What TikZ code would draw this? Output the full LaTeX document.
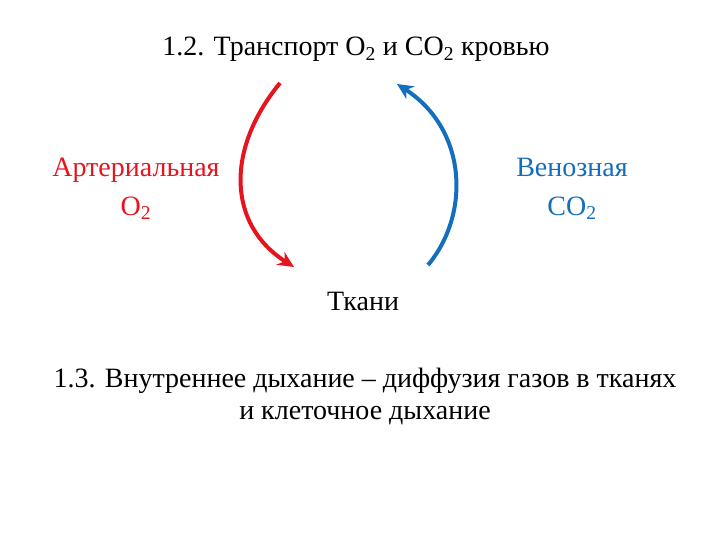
\documentclass[tikz,border=0pt]{standalone}
\usepackage{fontspec}
\setmainfont{Liberation Serif}
\usetikzlibrary{arrows.meta}
\begin{document}
\begin{tikzpicture}[x=1pt,y=-1pt,
  txt/.style={font=\fontsize{28}{32}\selectfont, inner sep=0pt, align=center, anchor=base},
  arc/.style={line width=4pt, -{Stealth[length=16pt,width=15pt]}}]
\useasboundingbox (0,0) rectangle (720,540);
\definecolor{myred}{RGB}{230,20,30}
\definecolor{myblue}{RGB}{20,110,190}
\node[txt] (title) at (356,56) {1.2. Транспорт O\textsubscript{2} и CO\textsubscript{2} кровью};
\node[txt, text=myred] (art) at (136,177) {Артериальная};
\node[txt, text=myred] (arto) at (136,215) {O\textsubscript{2}};
\node[txt, text=myblue] (ven) at (572,177) {Венозная};
\node[txt, text=myblue] (venc) at (572,215) {CO\textsubscript{2}};
\node[txt] (tk) at (363,310) {Ткани};
\node[txt] (l1) at (365,387) {1.3. Внутреннее дыхание – диффузия газов в тканях};
\node[txt] (l2) at (365,419) {и клеточное дыхание};
\coordinate (r1) at (280,83);
\coordinate (r2) at (294,267);
\coordinate (b1) at (428,265);
\coordinate (b2) at (397,84);
\draw[arc, myred] (r1) .. controls (225,150) and (228,225) .. (r2);
\draw[arc, myblue] (b1) .. controls (470,215) and (468,130) .. (b2);
\end{tikzpicture}
\end{document}
